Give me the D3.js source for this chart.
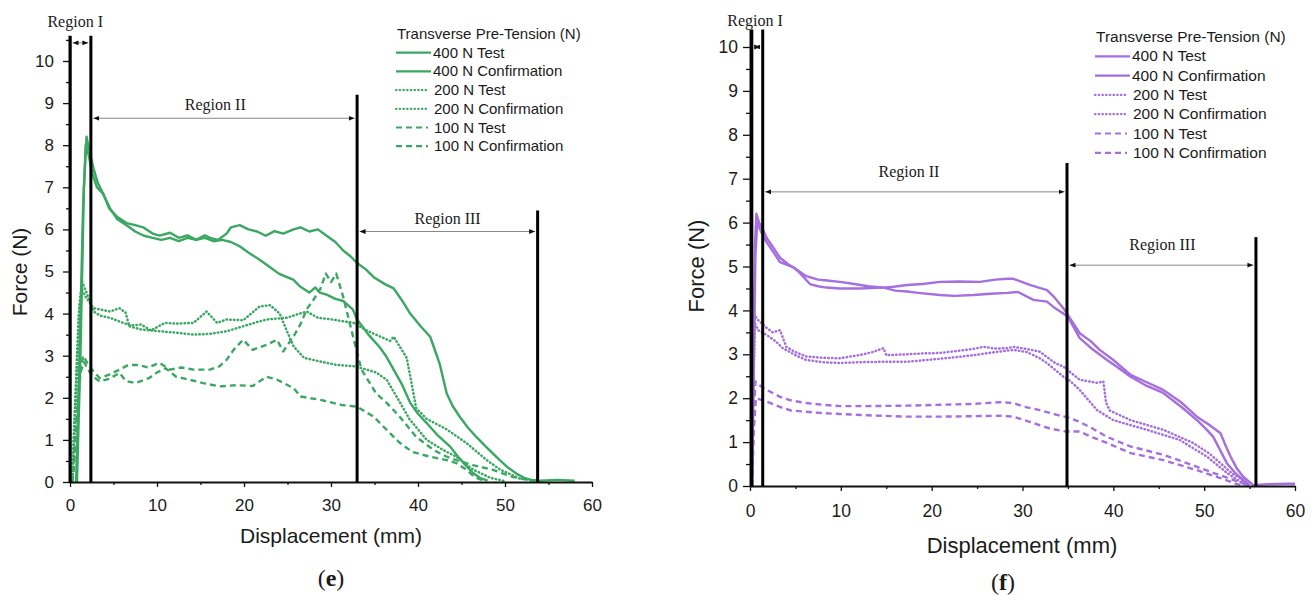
<!DOCTYPE html>
<html>
<head>
<meta charset="utf-8">
<script src="https://cdn.jsdelivr.net/npm/d3@7"></script>
<style>
  body { margin: 0; background: #fff; }
  svg text { font-family: "Liberation Sans", Arial, sans-serif; fill: #1b1b1b; }
  svg text.serif { font-family: "Liberation Serif", "Times New Roman", serif; }
</style>
</head>
<body>
<svg id="fig" width="1313" height="595"></svg>
<script>
// ---- data: [displacement (mm), force (N)] ----

// panel (e)
const e400Test = [[0.8,0],[1.2,3],[1.6,7],[1.9,8.2],[2.2,7.9],[2.7,7.45],[3.2,7.1],[3.8,6.85],[4.5,6.5],[5.4,6.3],[6.5,6.15],[7.5,6.1],[8.4,6.05],[9.5,5.9],[10.3,5.85],[11.5,5.92],[12.5,5.8],[13.5,5.86],[14.5,5.75],[15.5,5.86],[16.1,5.8],[17,5.75],[18,5.9],[18.5,6.05],[19.5,6.1],[20.5,6.0],[21.5,5.95],[22.5,5.85],[23.5,5.96],[24.5,5.9],[25.7,6.0],[26.5,6.05],[27.5,5.95],[28.5,6.0],[29.5,5.85],[30.5,5.7],[31.4,5.5],[32.3,5.35],[33,5.2],[34,5.05],[35,4.85],[36.2,4.7],[37.2,4.6],[38.2,4.3],[39.1,4.0],[40.3,3.7],[41.4,3.45],[42,3.1],[42.5,2.8],[43.3,2.1],[44,1.8],[44.8,1.55],[45.7,1.3],[46.7,1.07],[48,0.8],[49.4,0.52],[50.3,0.35],[51.3,0.2],[52.2,0.1],[53,0.05],[54,0.03],[56,0.05],[58,0.03]];
const e400Conf = [[0.7,0],[1.1,3],[1.5,6.5],[1.8,8.0],[2.1,7.8],[2.6,7.3],[3.1,7.0],[3.8,6.85],[4.6,6.5],[5.4,6.25],[6.5,6.1],[7.5,5.95],[8.5,5.85],[9.5,5.8],[10.5,5.75],[11.5,5.8],[12.5,5.72],[13.5,5.8],[14.5,5.75],[15.5,5.8],[16.5,5.72],[17.5,5.75],[18.5,5.7],[19.5,5.6],[20.5,5.45],[21.8,5.28],[23,5.1],[24,4.95],[25.7,4.8],[26.4,4.65],[27.5,4.5],[28.2,4.62],[28.7,4.5],[29.5,4.45],[30.5,4.35],[31.4,4.3],[32.5,4.1],[33,3.86],[34.3,3.5],[35.6,3.2],[36.3,3.0],[37.2,2.67],[38.2,2.3],[39.1,1.88],[40,1.62],[41,1.4],[42.3,1.1],[43.7,0.84],[44.6,0.6],[45.6,0.37],[46.3,0.22],[47.1,0.1],[48,0.03]];
const e200Test = [[0.3,0],[0.7,2],[1.1,4.2],[1.4,4.75],[1.9,4.5],[2.7,4.05],[3.5,3.95],[4.6,3.9],[6.1,3.78],[7,3.72],[8.2,3.74],[9.3,3.6],[10.9,3.78],[12.1,3.76],[14.2,3.78],[15.7,4.05],[16.9,3.78],[18,3.86],[19.9,3.84],[21.8,4.17],[23,4.2],[24.1,4.0],[24.9,3.6],[25.7,3.22],[26.9,2.95],[28.8,2.86],[30.7,2.78],[32.6,2.75],[34.1,2.67],[35.2,2.6],[36.4,2.43],[37.9,1.9],[39,1.5],[41,1.0],[42.9,0.76],[44.4,0.6],[46.3,0.3],[48.3,0.1],[50,0.02]];
const e200Conf = [[0.2,0],[0.6,2],[1.0,4.0],[1.3,4.6],[1.8,4.4],[2.7,4.13],[4.6,4.05],[5.7,4.13],[6.4,4.02],[6.8,3.7],[8.2,3.62],[10.3,3.58],[12,3.55],[14.2,3.5],[16.1,3.52],[18,3.58],[19.9,3.7],[21.5,3.8],[22.6,3.86],[24.9,3.9],[26.4,4.0],[27.2,4.05],[28.5,3.9],[30.1,3.86],[32.6,3.78],[34.1,3.6],[35.6,3.46],[36.8,3.35],[37.2,3.45],[38.7,2.95],[39.3,2.3],[39.8,1.75],[41,1.5],[43.3,1.25],[45.6,0.92],[47.9,0.52],[49.4,0.3],[51.7,0.08],[54,0.02]];
const e100Test = [[0.3,0],[0.7,1.2],[1.1,2.5],[1.5,3.0],[2.2,2.75],[2.7,2.63],[3.4,2.47],[4.5,2.55],[5.7,2.67],[6.7,2.78],[7.9,2.78],[9,2.72],[10.3,2.83],[11.5,2.67],[12.8,2.72],[14.2,2.67],[16.1,2.67],[17.2,2.75],[18,2.9],[18.8,3.14],[19.9,3.38],[21,3.14],[22.6,3.26],[23.8,3.38],[24.5,3.1],[25.7,3.46],[26.5,3.75],[27.2,4.1],[28,4.33],[28.8,4.6],[29.4,4.95],[30,4.75],[30.6,4.95],[31.4,4.4],[32,3.9],[32.6,3.4],[33.5,2.67],[35.2,2.1],[36.4,1.88],[37.9,1.55],[39.8,1.07],[41.8,0.76],[43.3,0.6],[44.4,0.52],[46.3,0.4],[48.6,0.29],[50.9,0.12],[53.2,0.03]];
const e100Conf = [[0.3,0],[0.8,1.5],[1.2,2.6],[1.6,2.85],[2.3,2.6],[2.7,2.5],[3.4,2.39],[4.5,2.45],[5.7,2.59],[6.4,2.4],[7.5,2.35],[9.1,2.47],[10,2.6],[11,2.7],[12.2,2.5],[13.3,2.45],[15.3,2.35],[17.2,2.27],[19.1,2.3],[21,2.28],[22.6,2.5],[23.8,2.43],[25.7,2.23],[26.5,2.03],[28.8,1.95],[31.2,1.83],[33,1.79],[34.9,1.55],[36.4,1.24],[37.9,0.93],[39.4,0.71],[41.4,0.6],[43.3,0.52],[44.4,0.45],[45.5,0.3],[46.5,0.12],[47.5,0.03]];

// panel (f)
const f400Test = [[0.2,0],[0.35,2.5],[0.55,5.5],[0.7,6.2],[1.0,6.0],[1.4,5.85],[1.84,5.65],[2.5,5.45],[3.3,5.2],[4.2,5.05],[5.0,4.95],[6.2,4.78],[7.5,4.7],[8.5,4.68],[9.9,4.65],[11.5,4.6],[13,4.55],[14.7,4.52],[16,4.45],[17.3,4.43],[18.5,4.4],[20.9,4.35],[22.5,4.33],[24.6,4.35],[26.5,4.38],[28.3,4.4],[29.5,4.42],[31.2,4.24],[32.7,4.2],[33.4,4.08],[34.7,3.9],[35.2,3.78],[36.3,3.37],[37.5,3.15],[39.3,2.87],[40.5,2.7],[41.9,2.49],[43.5,2.3],[45.5,2.12],[47.5,1.8],[49.2,1.5],[50.2,1.3],[51,1.12],[51.8,0.8],[52.5,0.52],[53.4,0.3],[54.3,0.14],[55,0.02]];
const f400Conf = [[0.25,0],[0.4,2.5],[0.6,5.3],[0.8,6.0],[1.2,5.8],[1.84,5.55],[2.5,5.35],[3.3,5.1],[4.8,4.98],[5.5,4.85],[6.6,4.6],[7.5,4.55],[8.4,4.52],[9.9,4.5],[12.1,4.5],[14.7,4.52],[15.8,4.54],[17.3,4.58],[19,4.6],[20.9,4.65],[23,4.66],[25.3,4.65],[27,4.7],[28.3,4.72],[29,4.72],[30.8,4.58],[32.7,4.46],[33.5,4.3],[34.5,4.05],[35.3,3.8],[36.3,3.48],[37.5,3.3],[38.5,3.1],[40,2.87],[41.9,2.53],[43.5,2.38],[45.5,2.19],[47.5,1.9],[49.2,1.58],[50.5,1.4],[51.8,1.2],[52.4,0.9],[52.9,0.67],[53.6,0.4],[54.3,0.21],[55.4,0.02],[57,0.04],[59,0.05],[60,0.05]];
const f200Test = [[0.15,0],[0.3,2],[0.5,3.9],[0.8,3.8],[1.3,3.7],[1.84,3.6],[2.5,3.5],[3.3,3.55],[4,3.17],[5,3.05],[6.2,2.95],[8,2.92],[9.9,2.91],[12,2.98],[13.5,3.05],[14.7,3.14],[15,2.98],[17.3,3.0],[19,3.02],[20.9,3.03],[23,3.08],[24.5,3.12],[25.7,3.17],[27,3.13],[28.3,3.14],[29,3.17],[31,3.1],[31.9,3.06],[33.6,2.8],[34.5,2.72],[36.3,2.42],[38.2,2.35],[38.9,2.38],[39.2,1.9],[39.6,1.72],[41.9,1.5],[45.5,1.28],[48.8,0.98],[50.5,0.75],[51.8,0.52],[53,0.3],[53.9,0.18],[54.8,0.02]];
const f200Conf = [[0.2,0],[0.35,2],[0.55,3.7],[0.9,3.55],[1.84,3.44],[2.8,3.3],[3.6,3.14],[5,2.98],[6.2,2.87],[8,2.82],[9.9,2.8],[12,2.82],[14.5,2.83],[17.3,2.83],[20,2.88],[22.5,2.93],[24.6,2.98],[27,3.05],[29,3.1],[30.5,3.05],[31.9,2.91],[32.7,2.8],[34.5,2.49],[35.2,2.4],[36.3,2.19],[38.2,1.73],[40,1.5],[43.7,1.28],[47.3,1.05],[50.3,0.67],[52.5,0.3],[54.3,0.05],[55,0.02]];
const f100Test = [[0.2,0],[0.35,1.2],[0.6,2.38],[1,2.3],[1.84,2.19],[3.3,2.03],[4.5,1.95],[6.2,1.89],[8,1.85],[9.9,1.82],[13,1.82],[17.3,1.83],[21,1.85],[24.6,1.87],[27.5,1.91],[29,1.89],[30.1,1.81],[31.9,1.73],[33.8,1.62],[35.2,1.55],[36.3,1.46],[37.8,1.3],[39.3,1.12],[41.9,0.9],[45.5,0.71],[48.1,0.52],[51,0.3],[53.2,0.14],[54.8,0.02]];
const f100Conf = [[0.25,0],[0.4,1.2],[0.65,2.0],[1,1.98],[1.84,1.92],[3.3,1.8],[4.5,1.72],[6.2,1.69],[8,1.66],[9.9,1.64],[13,1.61],[17.3,1.58],[21,1.58],[24.6,1.59],[27.5,1.6],[29,1.58],[30.8,1.46],[33,1.31],[34.8,1.24],[36.3,1.24],[37.8,1.1],[39.3,0.98],[41.9,0.75],[45.5,0.59],[49.2,0.36],[51.8,0.18],[53.5,0.05],[54.5,0]];

const seriesNames = ["400 N Test", "400 N Confirmation", "200 N Test", "200 N Confirmation", "100 N Test", "100 N Confirmation"];
const regionNames = ["Region I", "Region II", "Region III"];
const xTicks = [0, 10, 20, 30, 40, 50, 60];
const yTicks = [0, 1, 2, 3, 4, 5, 6, 7, 8, 9, 10];

// region boundaries (mm), top of each boundary line (N), arrow levels (N)
const eBounds = [0, 2.4, 33, 53.75];
const eBoundTops = [10.6, 10.6, 9.2, 6.45];
const eArrowLevels = [10.43, 8.64, 5.95];
const fBounds = [0.2, 1.4, 34.9, 55.7];
const fBoundTops = [10.4, 10.4, 7.36, 5.67];
const fArrowLevels = [10.0, 6.7, 5.03];

// ---- layout ----
const panels = [
  { tag: "e", color: "#3aa863", series: [e400Test, e400Conf, e200Test, e200Conf, e100Test, e100Conf],
    bounds: eBounds, tops: eBoundTops, arrows: eArrowLevels,
    x0: 70, x1: 592, y0: 482, unit: 42.1, yTop: 10.6, fs: 17, yPad: 9, xPad: 12,
    labelPos: [[0.6, 10.8], [16.7, 8.84], [43.4, 6.13]],
    legend: { x: 396, y: 39, step: 18.7, fs: 15 },
    yTitle: [27, 272], xTitle: [331, 543], titleFs: 21, cap: [331, 586] },
  { tag: "f", color: "#a56fdf", series: [f400Test, f400Conf, f200Test, f200Conf, f100Test, f100Conf],
    bounds: fBounds, tops: fBoundTops, arrows: fArrowLevels,
    x0: 750, x1: 1295, y0: 486, unit: 43.9, yTop: 10.4, fs: 17.5, yPad: 5, xPad: 14,
    labelPos: [[0.55, 10.48], [17.5, 7.05], [45.4, 5.38]],
    legend: { x: 1095, y: 42, step: 19.3, fs: 15.5 },
    yTitle: [704, 266], xTitle: [1022, 553], titleFs: 22, cap: [1003, 590] }
];

const svg = d3.select("#fig");

const defs = svg.append("defs");
["start", "end"].forEach(function(k) {
  defs.append("marker")
    .attr("id", "arr-" + k)
    .attr("viewBox", "0 0 10 10")
    .attr("refX", k == "end" ? 10 : 0).attr("refY", 5)
    .attr("markerWidth", 6).attr("markerHeight", 6)
    .attr("markerUnits", "userSpaceOnUse")
    .attr("orient", "auto")
    .append("path")
    .attr("d", k == "end" ? "M0,1 L10,5 L0,9 Z" : "M10,1 L0,5 L10,9 Z")
    .attr("fill", "#111");
});

// solid, solid, dotted, dotted, dashed, dashed
function dashFor(i) {
  if (i < 2) return null;
  if (i < 4) return "0.5,3.2";
  return "6,4";
}

panels.forEach(function(p) {
  const g = svg.append("g").attr("class", "panel-" + p.tag);

  const x = d3.scaleLinear().domain([0, 60]).range([p.x0, p.x1]);
  const y = d3.scaleLinear().domain([0, p.yTop]).range([p.y0, p.y0 - p.unit * p.yTop]);

  const line = d3.line()
    .x(d => x(d[0]))
    .y(d => y(d[1]));

  // curves
  g.selectAll("path.curve")
    .data(p.series)
    .join("path")
    .attr("class", "curve")
    .attr("d", line)
    .attr("fill", "none")
    .attr("stroke", p.color)
    .attr("stroke-width", (d, i) => i < 4 && i > 1 ? 2.5 : 2.4)
    .attr("stroke-linecap", (d, i) => i > 1 && i < 4 ? "round" : "butt")
    .attr("stroke-linejoin", "round")
    .attr("stroke-dasharray", (d, i) => dashFor(i));

  // minor ticks
  const minorX = d3.range(5, 60, 10);
  const minorY = d3.range(0.5, p.yTop, 1);

  const xAxis = d3.axisBottom(x).tickValues(xTicks).tickSize(5).tickSizeOuter(0).tickPadding(p.xPad).tickFormat(d3.format("d"));
  const yAxis = d3.axisLeft(y).tickValues(yTicks).tickSize(7).tickSizeOuter(0).tickPadding(p.yPad).tickFormat(d3.format("d"));

  g.append("g").attr("transform", "translate(0," + p.y0 + ")").call(xAxis);
  g.append("g").attr("transform", "translate(" + p.x0 + ",0)").call(yAxis);

  g.append("g").attr("transform", "translate(0," + p.y0 + ")")
    .call(d3.axisBottom(x).tickValues(minorX).tickSize(3).tickSizeOuter(0).tickFormat(""))
    .select(".domain").remove();
  g.append("g").attr("transform", "translate(" + p.x0 + ",0)")
    .call(d3.axisLeft(y).tickValues(minorY).tickSize(4).tickSizeOuter(0).tickFormat(""))
    .select(".domain").remove();

  g.selectAll(".domain").attr("stroke", "#111").attr("stroke-width", 2);
  g.selectAll(".tick line").attr("stroke", "#111").attr("stroke-width", 1.3);
  g.selectAll(".tick text").attr("font-size", p.fs).attr("font-family", null).attr("fill", "#1b1b1b");

  // region boundaries
  g.selectAll("line.bound")
    .data(p.bounds)
    .join("line")
    .attr("class", "bound")
    .attr("x1", d => x(d)).attr("x2", d => x(d))
    .attr("y1", y(0))
    .attr("y2", (d, i) => y(p.tops[i]))
    .attr("stroke", "#000")
    .attr("stroke-width", 3);

  // arrows between boundaries
  g.selectAll("line.arrow")
    .data(p.arrows)
    .join("line")
    .attr("class", "arrow")
    .attr("x1", (d, i) => x(p.bounds[i]) + 2.5)
    .attr("x2", (d, i) => x(p.bounds[i + 1]) - 2.5)
    .attr("y1", d => y(d)).attr("y2", d => y(d))
    .attr("stroke", "#888")
    .attr("stroke-width", 1)
    .attr("marker-start", "url(#arr-start)")
    .attr("marker-end", "url(#arr-end)");

  g.selectAll("text.region")
    .data(regionNames)
    .join("text")
    .attr("class", "region serif")
    .attr("x", (d, i) => x(p.labelPos[i][0]))
    .attr("y", (d, i) => y(p.labelPos[i][1]))
    .attr("text-anchor", "middle")
    .attr("font-size", 16)
    .text(d => d);

  // legend
  const lg = g.append("g").attr("transform", "translate(" + p.legend.x + "," + p.legend.y + ")");
  lg.append("text")
    .attr("x", 1).attr("y", 0)
    .attr("font-size", p.legend.fs)
    .text("Transverse Pre-Tension (N)");
  const item = lg.selectAll("g.item")
    .data(seriesNames)
    .join("g")
    .attr("class", "item")
    .attr("transform", (d, i) => "translate(0," + (p.legend.step * (i + 1)) + ")");
  item.append("line")
    .attr("x1", 0).attr("x2", (d, i) => i < 2 ? 35 : 32)
    .attr("y1", -5).attr("y2", -5)
    .attr("stroke", p.color)
    .attr("stroke-width", 2.2)
    .attr("stroke-linecap", (d, i) => i > 1 && i < 4 ? "round" : "butt")
    .attr("stroke-dasharray", (d, i) => dashFor(i));
  item.append("text")
    .attr("x", (d, i) => i < 2 ? 37 : 38)
    .attr("y", 0)
    .attr("font-size", p.legend.fs)
    .text(d => d);

  // axis titles
  g.append("text")
    .attr("transform", "translate(" + p.yTitle[0] + "," + p.yTitle[1] + ") rotate(-90)")
    .attr("text-anchor", "middle")
    .attr("font-size", p.titleFs)
    .text("Force (N)");
  g.append("text")
    .attr("x", p.xTitle[0]).attr("y", p.xTitle[1])
    .attr("text-anchor", "middle")
    .attr("font-size", p.titleFs)
    .text("Displacement (mm)");

  const cap = g.append("text")
    .attr("class", "serif")
    .attr("x", p.cap[0]).attr("y", p.cap[1])
    .attr("text-anchor", "middle")
    .attr("font-size", 24);
  cap.append("tspan").text("(");
  cap.append("tspan").attr("font-weight", "bold").text(p.tag);
  cap.append("tspan").text(")");
});
</script>
</body>
</html>
